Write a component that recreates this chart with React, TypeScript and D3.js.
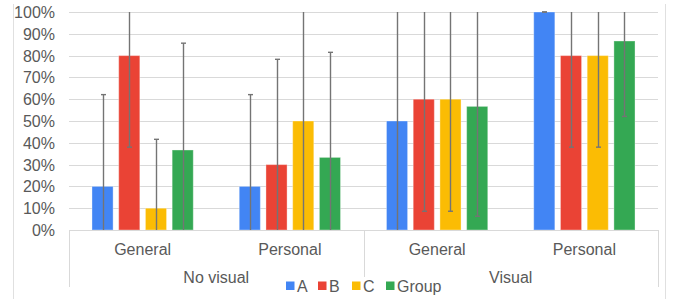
import { useEffect, useRef } from "react";
import * as d3 from "d3";

// outer and inner category axis
const groups = ["No visual", "Visual"];
const subGroups = ["General", "Personal"];
const seriesNames = ["A", "B", "C", "Group"];
const seriesColors = ["#4285F4", "#EA4335", "#FBBC04", "#34A853"];
const yTicks = [0, 0.1, 0.2, 0.3, 0.4, 0.5, 0.6, 0.7, 0.8, 0.9, 1];

// values per series, order: NoVisual/General, NoVisual/Personal, Visual/General, Visual/Personal
const valuesA = [0.2, 0.2, 0.5, 1.0];
const valuesB = [0.8, 0.3, 0.6, 0.8];
const valuesC = [0.1, 0.5, 0.6, 0.8];
const valuesGroup = [0.367, 0.333, 0.567, 0.867];

// symmetric error amounts (clipped to axis range when drawn)
const errA = [0.421, 0.421, 0.55, 0];
const errB = [0.42, 0.483, 0.514, 0.42];
const errC = [0.316, 0.55, 0.514, 0.42];
const errGroup = [0.49, 0.482, 0.504, 0.346];

const W = 683;
const H = 299;

const App = () => {
  const svgRef = useRef<SVGSVGElement>(null);

  useEffect(() => {
    if (!svgRef.current) return;
    const svg = d3.select(svgRef.current);
    svg.selectAll("*").remove();

    const font = "'Liberation Sans', Arial, sans-serif";
    const textColor = "#595959";
    const lineColor = "#d9d9d9";

    const left = 69;
    const right = 658;
    const top = 12;
    const bottom = 230;

    const cells = groups.flatMap((g) => subGroups.map((s) => `${g}|${s}`));
    const values = [valuesA, valuesB, valuesC, valuesGroup];
    const errors = [errA, errB, errC, errGroup];

    const y = d3.scaleLinear().domain([0, 1]).range([bottom, top]);
    const x0 = d3.scaleBand<string>().domain(cells).range([left, right]);
    const x1 = d3
      .scaleBand<string>()
      .domain(seriesNames)
      .range([0, x0.bandwidth()])
      .paddingInner(0.21)
      .paddingOuter(0.86);
    const xg = d3.scaleBand<string>().domain(groups).range([left, right]);

    // outer frame lines
    svg.append("line").attr("x1", 13.5).attr("x2", 13.5).attr("y1", 4).attr("y2", H)
      .attr("stroke", "#e0e0e0");
    svg.append("line").attr("x1", 665.5).attr("x2", 665.5).attr("y1", 4).attr("y2", H)
      .attr("stroke", "#e0e0e0");

    // gridlines + y labels
    const yAxis = svg.append("g");
    yTicks.forEach((t) => {
      const yy = Math.round(y(t)) + 0.5;
      yAxis.append("line")
        .attr("x1", left).attr("x2", right)
        .attr("y1", yy).attr("y2", yy)
        .attr("stroke", lineColor);
      yAxis.append("text")
        .attr("x", 55).attr("y", yy + 5.5)
        .attr("text-anchor", "end")
        .attr("font-family", font).attr("font-size", 16)
        .attr("fill", textColor)
        .text(d3.format(".0%")(t));
    });

    // bars
    const clip = (v: number) => Math.max(0, Math.min(1, v));
    seriesNames.forEach((s, si) => {
      cells.forEach((c, ci) => {
        const v = values[si][ci];
        const bx = (x0(c) ?? 0) + (x1(s) ?? 0);
        const bw = x1.bandwidth();
        svg.append("rect")
          .attr("x", bx).attr("y", y(v))
          .attr("width", bw).attr("height", y(0) - y(v))
          .attr("fill", seriesColors[si])
          .attr("stroke", "rgba(255,255,255,0.35)")
          .attr("stroke-width", 1);
      });
    });

    // error bars
    seriesNames.forEach((s, si) => {
      cells.forEach((c, ci) => {
        const v = values[si][ci];
        const e = errors[si][ci];
        const cx = Math.round((x0(c) ?? 0) + (x1(s) ?? 0) + x1.bandwidth() / 2) + 0.5;
        const lo = v - e;
        const hi = v + e;
        svg.append("line")
          .attr("x1", cx).attr("x2", cx)
          .attr("y1", y(clip(hi))).attr("y2", y(clip(lo)))
          .attr("stroke", "#747474").attr("stroke-width", 1.4);
        [lo, hi].forEach((end) => {
          if (end >= 0 && end <= 1) {
            svg.append("line")
              .attr("x1", cx - 2.5).attr("x2", cx + 2.5)
              .attr("y1", y(end)).attr("y2", y(end))
              .attr("stroke", "#747474").attr("stroke-width", 1.4);
          }
        });
      });
    });

    // category axis box
    const axis = svg.append("g");
    axis.append("line").attr("x1", left).attr("x2", right)
      .attr("y1", bottom + 0.5).attr("y2", bottom + 0.5).attr("stroke", lineColor);
    [left, right].forEach((xx) => {
      axis.append("line").attr("x1", xx + 0.5).attr("x2", xx + 0.5)
        .attr("y1", bottom).attr("y2", 287).attr("stroke", lineColor);
    });
    const mid = Math.round(xg("Visual") ?? 0) + 0.5;
    axis.append("line").attr("x1", mid).attr("x2", mid)
      .attr("y1", bottom).attr("y2", 277).attr("stroke", lineColor);

    cells.forEach((c) => {
      axis.append("text")
        .attr("x", (x0(c) ?? 0) + x0.bandwidth() / 2).attr("y", 255)
        .attr("text-anchor", "middle")
        .attr("font-family", font).attr("font-size", 16)
        .attr("fill", textColor)
        .text(c.split("|")[1]);
    });
    groups.forEach((g) => {
      axis.append("text")
        .attr("x", (xg(g) ?? 0) + xg.bandwidth() / 2).attr("y", 283)
        .attr("text-anchor", "middle")
        .attr("font-family", font).attr("font-size", 16)
        .attr("fill", textColor)
        .text(g);
    });

    // legend
    const legendX = [286, 318, 352, 386];
    const legend = svg.append("g");
    seriesNames.forEach((s, i) => {
      legend.append("rect")
        .attr("x", legendX[i]).attr("y", 281.5)
        .attr("width", 8.5).attr("height", 8.5)
        .attr("fill", seriesColors[i]);
      legend.append("text")
        .attr("x", legendX[i] + 11).attr("y", 291.5)
        .attr("font-family", font).attr("font-size", 16)
        .attr("fill", textColor)
        .text(s);
    });
  }, []);

  return (
    <svg
      ref={svgRef}
      width={W}
      height={H}
      style={{ position: "absolute", left: 0, top: 0, display: "block", background: "#fff" }}
    ></svg>
  );
};

export default App;
